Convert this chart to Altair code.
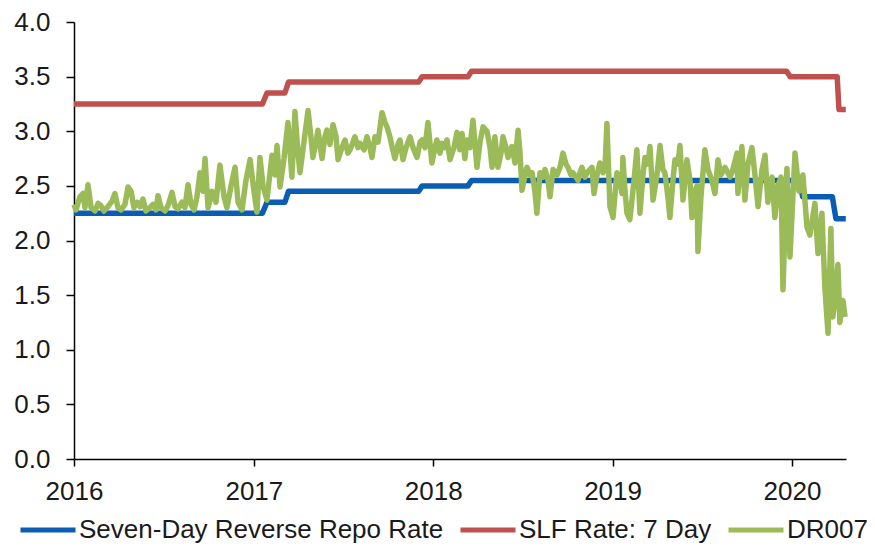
import altair as alt
import pandas as pd

# ---- data (decimal years, values in %) ----
repo_t = [2016.000, 2017.050, 2017.075, 2017.175, 2017.195, 2017.920, 2017.940,
          2018.195, 2018.215, 2020.040, 2020.060, 2020.225, 2020.245, 2020.300]
repo_v = [2.25, 2.25, 2.35, 2.35, 2.45, 2.45, 2.50, 2.50, 2.55, 2.55, 2.40, 2.40, 2.20, 2.20]

slf_t = [2016.000, 2017.050, 2017.075, 2017.175, 2017.195, 2017.920, 2017.940,
         2018.195, 2018.215, 2019.970, 2019.990, 2020.252, 2020.262, 2020.300]
slf_v = [3.25, 3.25, 3.35, 3.35, 3.45, 3.45, 3.50, 3.50, 3.55, 3.55, 3.50, 3.50, 3.20, 3.20]

dr_t = [2016.000, 2016.011, 2016.033, 2016.050, 2016.061, 2016.078, 2016.095, 2016.117, 2016.134, 2016.150,
        2016.167, 2016.189, 2016.212, 2016.228, 2016.245, 2016.262, 2016.284, 2016.301, 2016.318, 2016.334,
        2016.351, 2016.368, 2016.384, 2016.401, 2016.423, 2016.440, 2016.457, 2016.468, 2016.485, 2016.507,
        2016.524, 2016.546, 2016.563, 2016.579, 2016.602, 2016.618, 2016.635, 2016.652, 2016.669, 2016.685,
        2016.702, 2016.719, 2016.730, 2016.747, 2016.769, 2016.791, 2016.813, 2016.836, 2016.852, 2016.875,
        2016.897, 2016.914, 2016.936, 2016.958, 2016.981, 2017.003, 2017.019, 2017.036, 2017.053, 2017.075,
        2017.092, 2017.103, 2017.120, 2017.131, 2017.148, 2017.170, 2017.192, 2017.214, 2017.231, 2017.248,
        2017.259, 2017.281, 2017.304, 2017.320, 2017.331, 2017.348, 2017.359, 2017.382, 2017.398, 2017.409,
        2017.426, 2017.443, 2017.460, 2017.471, 2017.493, 2017.510, 2017.526, 2017.538, 2017.554, 2017.565,
        2017.582, 2017.593, 2017.616, 2017.632, 2017.649, 2017.660, 2017.677, 2017.694, 2017.716, 2017.733,
        2017.744, 2017.760, 2017.772, 2017.788, 2017.805, 2017.816, 2017.833, 2017.850, 2017.872, 2017.889,
        2017.911, 2017.928, 2017.939, 2017.955, 2017.972, 2017.994, 2018.011, 2018.022, 2018.039, 2018.050,
        2018.067, 2018.078, 2018.095, 2018.117, 2018.134, 2018.150, 2018.162, 2018.178, 2018.189, 2018.206,
        2018.223, 2018.245, 2018.262, 2018.279, 2018.301, 2018.318, 2018.329, 2018.345, 2018.362, 2018.379,
        2018.390, 2018.407, 2018.418, 2018.440, 2018.457, 2018.474, 2018.485, 2018.496, 2018.513, 2018.524,
        2018.540, 2018.552, 2018.568, 2018.579, 2018.596, 2018.613, 2018.624, 2018.641, 2018.652, 2018.669,
        2018.691, 2018.708, 2018.724, 2018.741, 2018.752, 2018.769, 2018.780, 2018.797, 2018.808, 2018.819,
        2018.830, 2018.847, 2018.858, 2018.875, 2018.886, 2018.897, 2018.914, 2018.930, 2018.947, 2018.958,
        2018.969, 2018.986, 2019.003, 2019.025, 2019.042, 2019.053, 2019.058, 2019.070, 2019.081, 2019.097,
        2019.120, 2019.136, 2019.153, 2019.170, 2019.181, 2019.198, 2019.209, 2019.226, 2019.248, 2019.265,
        2019.281, 2019.292, 2019.309, 2019.320, 2019.337, 2019.348, 2019.365, 2019.376, 2019.393, 2019.415,
        2019.432, 2019.443, 2019.460, 2019.471, 2019.476, 2019.493, 2019.515, 2019.532, 2019.554, 2019.571,
        2019.588, 2019.604, 2019.627, 2019.643, 2019.655, 2019.671, 2019.694, 2019.699, 2019.721, 2019.738,
        2019.755, 2019.777, 2019.794, 2019.811, 2019.833, 2019.850, 2019.866, 2019.889, 2019.905, 2019.922,
        2019.939, 2019.950, 2019.972, 2019.989, 2020.017, 2020.039, 2020.061, 2020.084, 2020.100, 2020.128,
        2020.145, 2020.167, 2020.184, 2020.201, 2020.217, 2020.228, 2020.245, 2020.256, 2020.267, 2020.284,
        2020.296]
dr_v = [2.33, 2.28, 2.40, 2.43, 2.30, 2.51, 2.30, 2.27, 2.34, 2.32,
        2.27, 2.31, 2.36, 2.43, 2.30, 2.28, 2.33, 2.49, 2.45, 2.30,
        2.35, 2.31, 2.38, 2.27, 2.30, 2.33, 2.28, 2.41, 2.30, 2.27,
        2.32, 2.44, 2.31, 2.29, 2.35, 2.30, 2.51, 2.33, 2.28, 2.40,
        2.62, 2.45, 2.75, 2.30, 2.45, 2.35, 2.69, 2.40, 2.30, 2.50,
        2.67, 2.35, 2.28, 2.55, 2.74, 2.45, 2.26, 2.76, 2.50, 2.37,
        2.62, 2.78, 2.60, 2.87, 2.49, 2.75, 3.08, 2.58, 3.18, 2.80,
        2.62, 2.90, 3.19, 2.95, 2.76, 2.90, 3.01, 2.75, 2.95, 3.01,
        2.88, 3.06, 2.95, 2.74, 2.85, 2.92, 2.80, 2.83, 2.90, 2.95,
        2.85, 2.89, 2.83, 2.95, 2.85, 2.76, 2.95, 2.90, 3.17, 3.08,
        3.04, 2.95, 2.86, 2.75, 2.88, 2.92, 2.74, 2.85, 2.95, 2.85,
        2.76, 2.90, 2.92, 2.85, 3.08, 2.71, 2.85, 2.92, 2.80, 2.89,
        2.85, 2.92, 2.74, 2.85, 2.99, 2.83, 2.98, 2.75, 2.92, 2.85,
        3.10, 2.67, 2.90, 3.04, 3.00, 2.85, 2.67, 2.95, 2.67, 2.80,
        2.95, 2.85, 2.76, 2.86, 2.71, 3.01, 2.80, 2.46, 2.60, 2.67,
        2.60, 2.62, 2.45, 2.25, 2.62, 2.58, 2.65, 2.55, 2.40, 2.65,
        2.60, 2.67, 2.80, 2.70, 2.67, 2.60, 2.62, 2.58, 2.55, 2.62,
        2.67, 2.58, 2.62, 2.65, 2.67, 2.43, 2.60, 2.71, 2.62, 2.65,
        3.07, 2.31, 2.21, 2.62, 2.55, 2.43, 2.76, 2.45, 2.25, 2.19,
        2.55, 2.83, 2.25, 2.60, 2.76, 2.70, 2.86, 2.37, 2.60, 2.87,
        2.65, 2.62, 2.40, 2.21, 2.55, 2.74, 2.70, 2.87, 2.37, 2.74,
        2.55, 2.21, 2.45, 2.50, 1.90, 2.40, 2.83, 2.65, 2.55, 2.43,
        2.74, 2.60, 2.67, 2.62, 2.58, 2.65, 2.80, 2.43, 2.86, 2.37,
        2.70, 2.85, 2.60, 2.31, 2.65, 2.78, 2.35, 2.58, 2.21, 2.50,
        2.58, 1.55, 2.66, 1.85, 2.80, 2.45, 2.60, 2.12, 2.05, 2.34,
        1.88, 2.25, 1.55, 1.15, 2.11, 1.30, 1.55, 1.78, 1.25, 1.45,
        1.30]

series_names = ["Seven-Day Reverse Repo Rate", "SLF Rate: 7 Day", "DR007"]
series_colors = ["#0A5CB5", "#C0504D", "#9BBB59"]
year_ticks = [2016, 2017, 2018, 2019, 2020]
y_ticks = [0.0, 0.5, 1.0, 1.5, 2.0, 2.5, 3.0, 3.5, 4.0]

FONT = "Liberation Sans"


def to_date(t):
    d = pd.Timestamp("2016-01-01") + pd.to_timedelta((t - 2016.0) * 365.25, unit="D")
    return d.strftime("%Y-%m-%dT%H:%M:%S")


def frame(ts, vs, name):
    return pd.DataFrame({"date": [to_date(t) for t in ts], "value": vs, "series": name})


df_steps = pd.concat([frame(repo_t, repo_v, series_names[0]),
                      frame(slf_t, slf_v, series_names[1])], ignore_index=True)
df_dr = frame(dr_t, dr_v, series_names[2])

x_enc = alt.X("date:T",
              scale=alt.Scale(domain=[alt.DateTime(year=2016, month=1, date=1),
                                      alt.DateTime(year=2020, month=4, date=20)]),
              axis=alt.Axis(values=[alt.DateTime(year=y, month=1, date=1) for y in year_ticks],
                            format="%Y", title=None, grid=False,
                            domainColor="black", domainWidth=1.5,
                            tickColor="black", tickWidth=1.5, tickSize=7,
                            labelFont=FONT, labelFontSize=26, labelColor="#1a1a1a",
                            labelPadding=12, labelFlush=False))
y_enc = alt.Y("value:Q",
              scale=alt.Scale(domain=[0, 4]),
              axis=alt.Axis(values=y_ticks, format=".1f", title=None, grid=False,
                            domainColor="black", domainWidth=1.5,
                            tickColor="black", tickWidth=1.5, tickSize=8,
                            labelFont=FONT, labelFontSize=26, labelColor="#1a1a1a",
                            labelPadding=16))
color_enc = alt.Color("series:N",
                      scale=alt.Scale(domain=series_names, range=series_colors),
                      legend=alt.Legend(title=None, orient="none", direction="horizontal",
                                        legendX=-56, legendY=478,
                                        symbolType="stroke", symbolSize=3025,
                                        symbolStrokeWidth=5, labelFont=FONT,
                                        labelFontSize=26, labelColor="#1a1a1a",
                                        labelOffset=1, columnPadding=6, padding=0,
                                        labelLimit=500))

steps = alt.Chart(df_steps).mark_line(strokeWidth=5.5, strokeJoin="round").encode(
    x=x_enc, y=y_enc, color=color_enc, detail="series:N")
dr = alt.Chart(df_dr).mark_line(strokeWidth=5.5, strokeJoin="round").encode(
    x=x_enc, y=y_enc, color=color_enc)

chart = alt.layer(steps, dr).properties(
    width=772, height=437,
    autosize=alt.AutoSizeParams(type="none"),
    padding={"left": 66, "top": 14, "right": 21, "bottom": 86},
    background="white",
).configure_view(stroke=None)

chart.save("out.html", embed_options={"renderer": "svg", "actions": False})
